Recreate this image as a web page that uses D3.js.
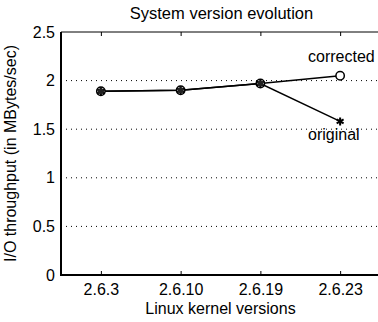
<!doctype html>
<html lang="en">
<head>
<meta charset="UTF-8">
<title>System version evolution</title>
<script src="https://cdn.jsdelivr.net/npm/d3@7"></script>
<style>
  body { margin: 0; background: #fff; }
  svg { display: block; font-family: "Liberation Sans", Arial, sans-serif; }
</style>
</head>
<body>
<script>
// data
var versions = ["2.6.3", "2.6.10", "2.6.19", "2.6.23"];
var corrected = [1.89, 1.90, 1.97, 2.05];
var original = [1.89, 1.90, 1.97, 1.58];
var yTicks = [0, 0.5, 1, 1.5, 2, 2.5];

var W = 378, H = 322;
var pLeft = 61, pTop = 32, pRight = 380, pBottom = 275;
var fs = 16, titleFs = 16.5;

var svg = d3.select("body").append("svg").attr("width", W).attr("height", H);

var x = d3.scaleLinear().domain([-0.5, 3.5]).range([pLeft, pRight]);
var y = d3.scaleLinear().domain([0, 2.5]).range([pBottom, pTop]);

// dotted grid
svg.selectAll("line.grid").data(yTicks.filter(function(d) { return d > 0 && d < 2.5; }))
  .enter().append("line")
  .attr("x1", pLeft).attr("x2", pRight)
  .attr("y1", function(d) { return y(d); }).attr("y2", function(d) { return y(d); })
  .attr("stroke", "#000").attr("stroke-width", 1).attr("stroke-dasharray", "1,4");

// top border
svg.append("line").attr("x1", pLeft).attr("x2", pRight).attr("y1", pTop).attr("y2", pTop)
  .attr("stroke", "#000").attr("stroke-width", 1);

// axes
var xAxis = d3.axisBottom(x).tickValues(d3.range(versions.length))
  .tickFormat(function(i) { return versions[i]; }).tickSize(-4).tickPadding(9);
var gx = svg.append("g").attr("transform", "translate(0," + pBottom + ")").call(xAxis);
gx.select(".domain").remove();
gx.selectAll("text").attr("font-size", fs).attr("fill", "#000")
  .attr("font-family", "Liberation Sans, Arial, sans-serif");
gx.selectAll("line").attr("stroke", "#000");

// ticks along the top
var gxt = svg.append("g").attr("transform", "translate(0," + pTop + ")")
  .call(d3.axisTop(x).tickValues(d3.range(versions.length)).tickSize(-4).tickFormat(""));
gxt.select(".domain").remove();

var yAxis = d3.axisLeft(y).tickValues(yTicks).tickFormat(d3.format("")).tickSize(0).tickPadding(6);
var gy = svg.append("g").attr("transform", "translate(" + pLeft + ",0)").call(yAxis);
gy.select(".domain").remove();
gy.selectAll("text").attr("font-size", fs).attr("fill", "#000")
  .attr("font-family", "Liberation Sans, Arial, sans-serif");

svg.append("line").attr("x1", pLeft).attr("x2", pLeft).attr("y1", pTop).attr("y2", pBottom + 1)
  .attr("stroke", "#000").attr("stroke-width", 2);
svg.append("line").attr("x1", pLeft).attr("x2", pRight).attr("y1", pBottom).attr("y2", pBottom)
  .attr("stroke", "#000").attr("stroke-width", 2);

// series lines
var line = d3.line().x(function(d, i) { return x(i); }).y(function(d) { return y(d); });
[original, corrected].forEach(function(s) {
  svg.append("path").datum(s).attr("d", line)
    .attr("fill", "none").attr("stroke", "#000").attr("stroke-width", 1.5);
});

// circle markers
svg.selectAll("circle.c").data(corrected).enter().append("circle")
  .attr("cx", function(d, i) { return x(i); }).attr("cy", function(d) { return y(d); })
  .attr("r", 4.2).attr("fill", "#fff").attr("stroke", "#000").attr("stroke-width", 1.5);

// asterisk markers
var star = d3.symbol().type(d3.symbolAsterisk).size(45);
svg.selectAll("path.o").data(original).enter().append("path")
  .attr("d", star)
  .attr("transform", function(d, i) { return "translate(" + x(i) + "," + y(d) + ")"; })
  .attr("fill", "none").attr("stroke", "#000").attr("stroke-width", 2);

// overlapping points look solid
svg.selectAll("circle.f").data(original.slice(0, 3)).enter().append("circle")
  .attr("cx", function(d, i) { return x(i); }).attr("cy", function(d) { return y(d); })
  .attr("r", 3).attr("fill", "#222");

// labels
svg.append("text").attr("x", 308).attr("y", 62).attr("font-size", fs).text("corrected");
svg.append("text").attr("x", 308).attr("y", 140).attr("font-size", fs).text("original");

svg.append("text").attr("x", (pLeft + pRight) / 2 + 1).attr("y", 19)
  .attr("text-anchor", "middle").attr("font-size", titleFs).text("System version evolution");
svg.append("text").attr("x", (pLeft + pRight) / 2).attr("y", 314)
  .attr("text-anchor", "middle").attr("font-size", fs).text("Linux kernel versions");
svg.append("text")
  .attr("transform", "translate(16," + (pTop + pBottom) / 2 + ") rotate(-90)")
  .attr("text-anchor", "middle").attr("font-size", fs).text("I/O throughput (in MBytes/sec)");
</script>
</body>
</html>
